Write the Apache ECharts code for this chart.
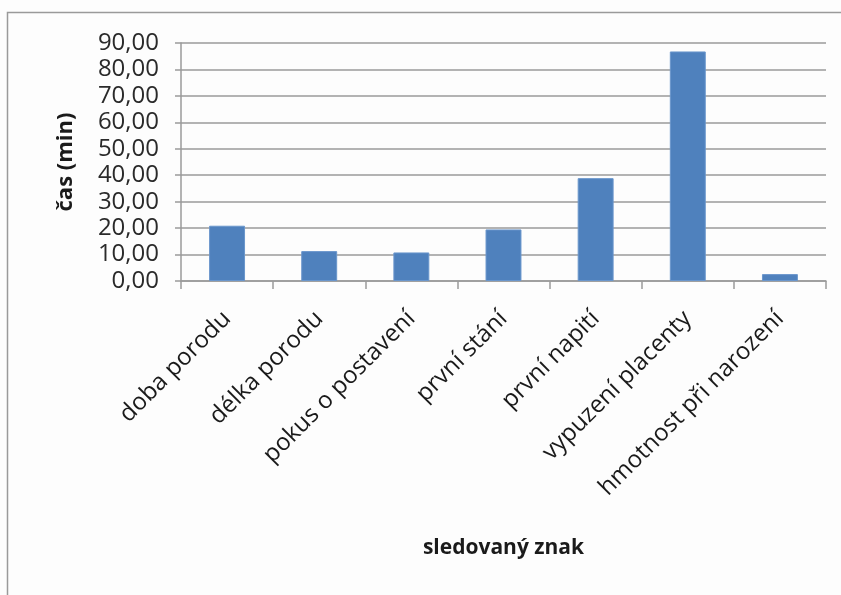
<!DOCTYPE html>
<html>
<head>
<meta charset="utf-8">
<script src="https://cdn.jsdelivr.net/npm/echarts@6/dist/echarts.min.js"></script>
<style>
  html, body { margin: 0; padding: 0; background: #fdfdfd; }
  #chart { width: 841px; height: 595px; }
</style>
</head>
<body>
<div id="chart"></div>
<script>
// Sledované znaky a průměrný čas v minutách
const categories = [
  'doba porodu',
  'délka porodu',
  'pokus o postavení',
  'první stání',
  'první napití',
  'vypuzení placenty',
  'hmotnost při narození'
];
const values = [20.9, 11.3, 10.8, 19.5, 38.9, 86.8, 2.6];
const yTicks = { min: 0, max: 90, step: 10 };

const fmt = v => v.toFixed(2).replace('.', ',');
const font = '"Open Sans", "Noto Sans", sans-serif';

const chart = echarts.init(document.getElementById('chart'), null, { renderer: 'canvas' });
chart.setOption({
  backgroundColor: '#fdfdfd',
  animation: false,
  graphic: [{
    type: 'polyline',
    shape: { points: [[7.5, 600], [7.5, 12.5], [850, 12.5]] },
    style: { stroke: '#9a9a9a', lineWidth: 1.5, fill: null }
  }],
  grid: { left: 181, right: 15, top: 43, bottom: 314, containLabel: false },
  xAxis: {
    type: 'category',
    data: categories,
    name: 'sledovaný znak',
    nameLocation: 'middle',
    nameGap: 257,
    nameTextStyle: { fontFamily: font, fontSize: 21, fontWeight: 'bold', color: '#1a1a1a' },
    axisLine: { lineStyle: { color: '#9a9a9a', width: 1.5 } },
    axisTick: { show: true, length: 8, lineStyle: { color: '#9a9a9a', width: 1.5 } },
    axisLabel: {
      rotate: 45, margin: 34, interval: 0,
      fontFamily: font, fontSize: 24, color: '#1a1a1a'
    }
  },
  yAxis: {
    type: 'value',
    min: yTicks.min, max: yTicks.max, interval: yTicks.step,
    name: 'čas (min)',
    nameLocation: 'middle',
    nameGap: 104,
    nameRotate: 90,
    nameTextStyle: { fontFamily: font, fontSize: 22, fontWeight: 'bold', color: '#1a1a1a' },
    axisLine: { show: true, lineStyle: { color: '#9a9a9a', width: 1.5 } },
    axisTick: { show: true, length: 6, lineStyle: { color: '#9a9a9a', width: 1.5 } },
    splitLine: { lineStyle: { color: '#9a9a9a', width: 1.5 } },
    axisLabel: {
      margin: 22, formatter: fmt,
      fontFamily: font, fontSize: 24, color: '#2a2a2a'
    }
  },
  series: [{
    type: 'bar',
    data: values,
    barWidth: '39%',
    itemStyle: { color: '#4f81bd', borderColor: '#6a96cc', borderWidth: 1 }
  }]
});
</script>
</body>
</html>
